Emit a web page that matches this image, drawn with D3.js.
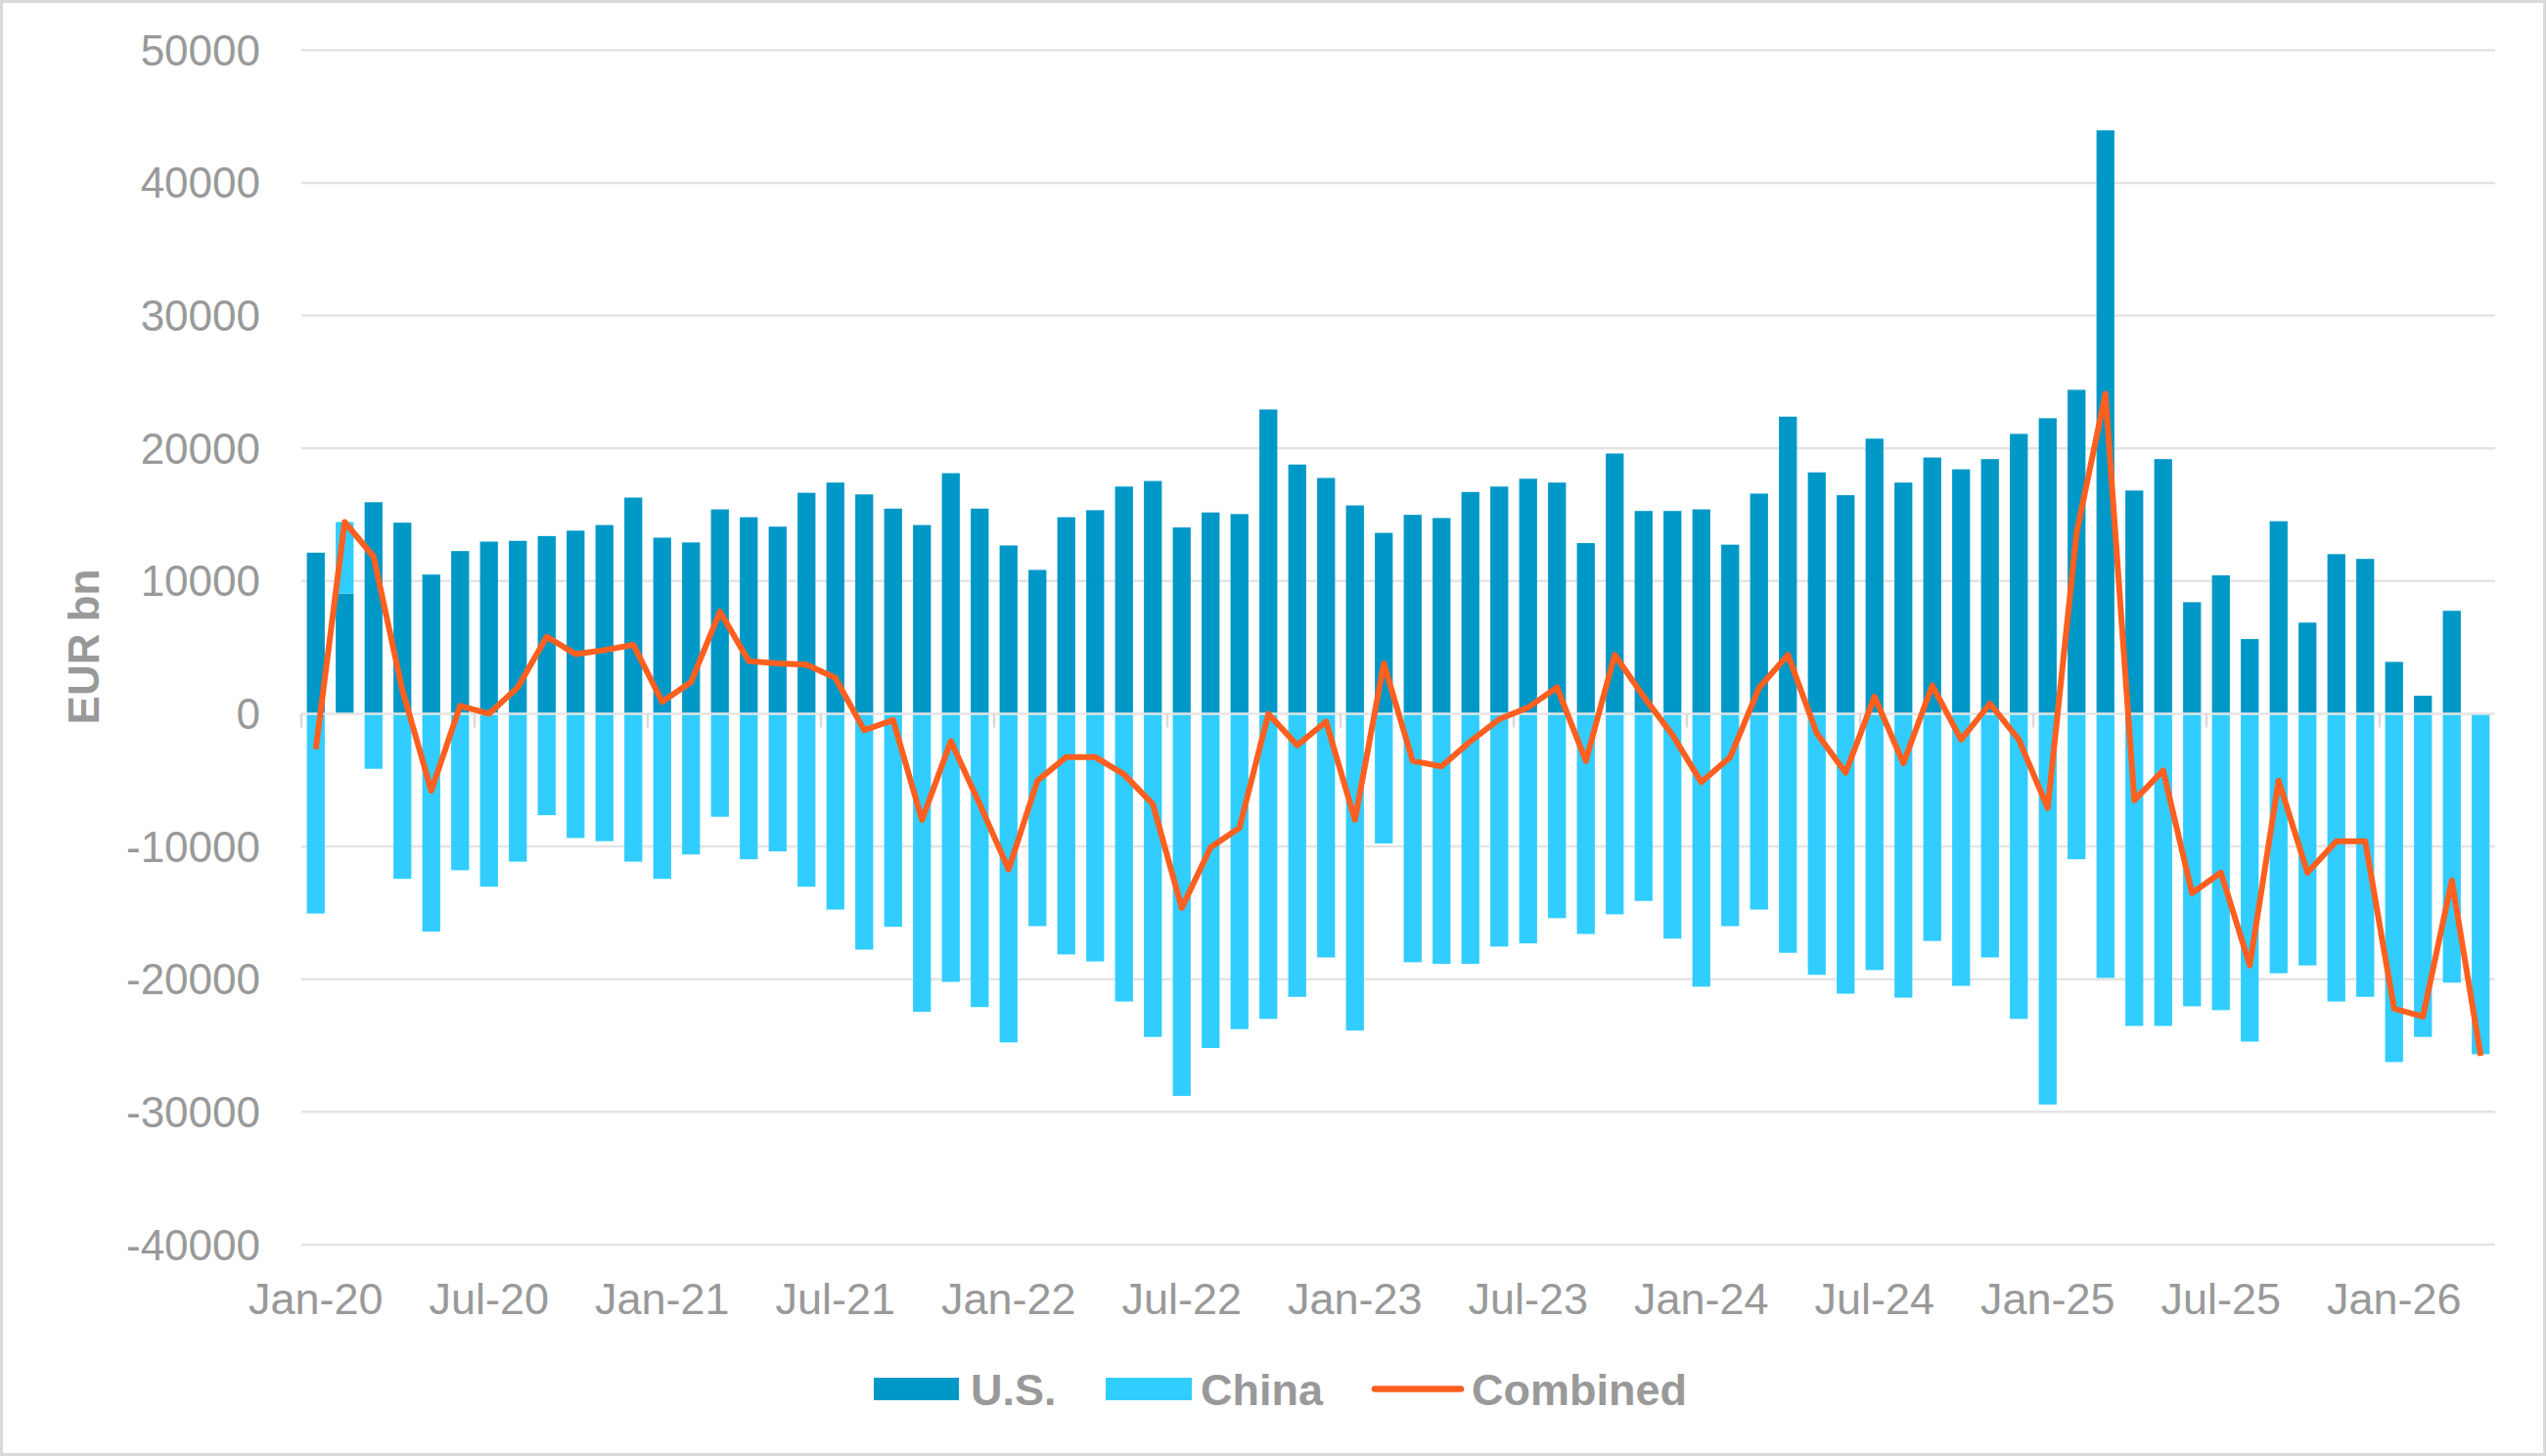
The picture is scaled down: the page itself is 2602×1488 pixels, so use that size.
<!DOCTYPE html>
<html>
<head>
<meta charset="utf-8">
<script src="https://cdn.jsdelivr.net/npm/d3@7"></script>
<style>
  body { margin: 0; background: #fff; }
  svg { display: block; font-family: "Liberation Sans", Arial, sans-serif; }
</style>
</head>
<body>
<svg width="2602" height="1488"></svg>
<script>
// monthly values, Jan-20 .. Apr-26 (EUR bn)
var usValues = [
  12140, 9060, 15940, 14400, 10490, 12260, 12970, 13030, 13390, 13800, 14220, 16290,
  13270, 12910, 15400, 14810, 14100, 16650, 17420, 16530, 15460, 14220, 18130, 15460,
  12680, 10840, 14810, 15340, 17120, 17540, 14040, 15170, 15050, 22930, 18780, 17770,
  15700, 13630, 14990, 14750, 16710, 17120, 17710, 17420, 12860, 19610, 15280, 15280,
  15400, 12740, 16590, 22390, 18190, 16470, 20730, 17420, 19310, 18420, 19190, 21090,
  22270, 24410, 43960, 16820, 19190, 8410, 10430, 5630, 14510, 6870, 12030, 11670,
  3910, 1360, 7760, 0
];
var chinaValues = [
  -15050, 5390, -4150, -12440, -16410, -11790, -13030, -11140, -7640, -9360, -9600, -11140,
  -12440, -10600, -7760, -10960, -10370, -13030, -14750, -17770, -16050, -22450, -20200, -22100,
  -24760, -16000, -18130, -18660, -21680, -24350, -28790, -25180, -23760, -22990, -21330, -18360,
  -23870, -9770, -18720, -18840, -18840, -17540, -17300, -15400, -16590, -15110, -14100, -16940,
  -20560, -16000, -14750, -18010, -19670, -21090, -19310, -21390, -17120, -20500, -18360, -22990,
  -29440, -10960, -19900, -23520, -23520, -22040, -22330, -24700, -19550, -18960, -21680, -21330,
  -26240, -24350, -20260, -25650
];
var combinedValues = [
  -2670, 14450, 11850, 1780, -5800, 600, 0, 2000, 5800, 4500, 4800, 5200,
  900, 2400, 7700, 3970, 3800, 3700, 2700, -1240, -470, -8000, -2070, -6800,
  -11730, -5040, -3260, -3260, -4560, -6810, -14630, -10070, -8590, 0, -2370, -590,
  -8000, 3790, -3550, -3970, -2070, -410, 470, 2000, -3550, 4440, 1300, -1600,
  -5150, -3260, 1950, 4440, -1480, -4440, 1300, -3730, 2130, -1950, 770, -1950,
  -7100, 13630, 24110, -6520, -4270, -13510, -11970, -18960, -5040, -11970, -9600, -9600,
  -22220, -22810, -12560, -25770
];
var yTicks = [-40000, -30000, -20000, -10000, 0, 10000, 20000, 30000, 40000, 50000];
var xTickLabels = ["Jan-20", "Jul-20", "Jan-21", "Jul-21", "Jan-22", "Jul-22", "Jan-23",
  "Jul-23", "Jan-24", "Jul-24", "Jan-25", "Jul-25", "Jan-26"];
var seriesNames = ["U.S.", "China", "Combined"];

var colUS = "#0098c7", colChina = "#31cdff", colLine = "#ff5f1f";
var grey = "#999999", gridCol = "#e4e4e4";

var svg = d3.select("svg");

// outer frame
svg.append("rect")
  .attr("x", 1.5).attr("y", 1.5).attr("width", 2599).attr("height", 1485)
  .attr("fill", "#fff").attr("stroke", "#d9d9d9").attr("stroke-width", 3);

var months = d3.range(usValues.length);
var rows = months.map(i => ({ i: i, us: usValues[i], china: chinaValues[i] }));

var x = d3.scaleBand().domain(months).range([308, 2550])
  .paddingInner(0.38).paddingOuter(0.19);
var y = d3.scaleLinear().domain([-40000, 50000]).range([1272, 51.3]);

// gridlines
svg.append("g").selectAll("line")
  .data(yTicks.filter(d => d !== 0))
  .join("line")
    .attr("x1", 308).attr("x2", 2550)
    .attr("y1", d => y(d)).attr("y2", d => y(d))
    .attr("stroke", gridCol).attr("stroke-width", 2.5);

// y labels
svg.append("g").selectAll("text")
  .data(yTicks)
  .join("text")
    .attr("x", 266).attr("y", d => y(d) + 15.5)
    .attr("text-anchor", "end")
    .attr("font-size", 44).attr("fill", grey)
    .text(d => d);

// y title
svg.append("text")
  .attr("transform", "translate(101,661) rotate(-90)")
  .attr("text-anchor", "middle")
  .attr("font-size", 44).attr("font-weight", "bold").attr("fill", grey)
  .text("EUR bn");

// stacked bars (positive up, negative down)
var stack = d3.stack().keys(["us", "china"]).offset(d3.stackOffsetDiverging);
var layers = stack(rows);
var colors = { us: colUS, china: colChina };

svg.append("g").selectAll("g")
  .data(layers)
  .join("g")
    .attr("fill", d => colors[d.key])
  .selectAll("rect")
  .data(d => d)
  .join("rect")
    .attr("x", d => x(d.data.i))
    .attr("width", x.bandwidth())
    .attr("y", d => y(Math.max(d[0], d[1])))
    .attr("height", d => Math.abs(y(d[0]) - y(d[1])));

// zero axis + ticks
svg.append("line")
  .attr("x1", 308).attr("x2", 2550).attr("y1", y(0)).attr("y2", y(0))
  .attr("stroke", gridCol).attr("stroke-width", 2.5);

var tickIdx = months.filter(i => i % 6 === 0);
svg.append("g").selectAll("line")
  .data(tickIdx)
  .join("line")
    .attr("x1", i => x(i) - x.step() * x.paddingInner() / 2)
    .attr("x2", i => x(i) - x.step() * x.paddingInner() / 2)
    .attr("y1", y(0)).attr("y2", y(0) + 14)
    .attr("stroke", "#d9d9d9").attr("stroke-width", 2.5);

svg.append("g").selectAll("text")
  .data(tickIdx)
  .join("text")
    .attr("x", i => x(i) + x.bandwidth() / 2)
    .attr("y", 1343)
    .attr("text-anchor", "middle")
    .attr("font-size", 45).attr("fill", grey)
    .text((i, k) => xTickLabels[k]);

// combined line
var line = d3.line()
  .x((d, i) => x(i) + x.bandwidth() / 2)
  .y(d => y(d));

svg.append("path")
  .datum(combinedValues)
  .attr("fill", "none")
  .attr("stroke", colLine)
  .attr("stroke-width", 6)
  .attr("stroke-linejoin", "round")
  .attr("d", line);

// legend
var legend = svg.append("g");
legend.append("rect").attr("x", 893).attr("y", 1408).attr("width", 87).attr("height", 23).attr("fill", colUS);
legend.append("rect").attr("x", 1130).attr("y", 1408).attr("width", 88).attr("height", 23).attr("fill", colChina);
legend.append("line").attr("x1", 1405).attr("x2", 1493).attr("y1", 1419.5).attr("y2", 1419.5)
  .attr("stroke", colLine).attr("stroke-width", 6.5).attr("stroke-linecap", "round");

legend.selectAll("text")
  .data([[992, seriesNames[0]], [1227, seriesNames[1]], [1504, seriesNames[2]]])
  .join("text")
    .attr("x", d => d[0]).attr("y", 1436)
    .attr("font-size", 45).attr("font-weight", "bold").attr("fill", grey)
    .text(d => d[1]);
</script>
</body>
</html>
